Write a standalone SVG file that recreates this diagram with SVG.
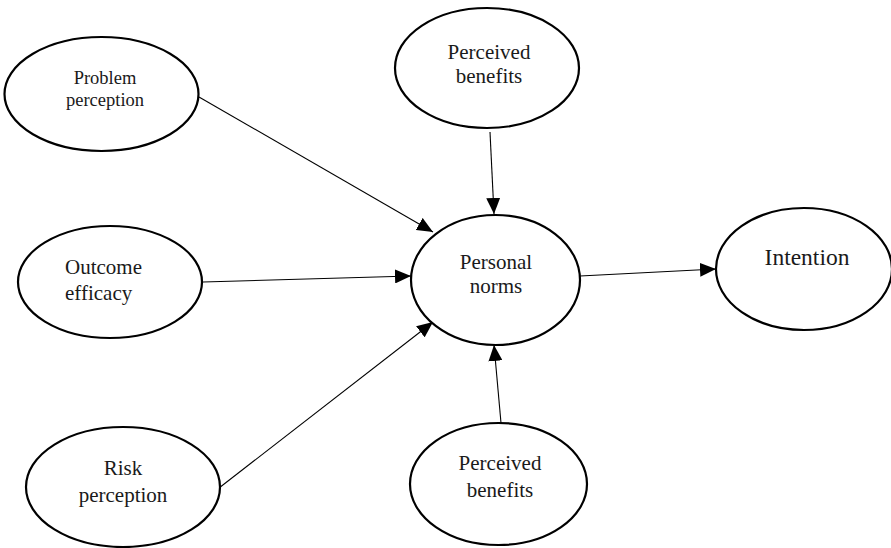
<svg xmlns="http://www.w3.org/2000/svg" width="891" height="548" viewBox="0 0 891 548">
<style>
.n ellipse{fill:#fff;stroke:#000;stroke-width:2.2}
.n text{font-family:"Liberation Serif","Times New Roman",serif;fill:#1a1a1a;text-anchor:middle}
.c line{stroke:#000;stroke-width:1.1;marker-end:url(#ah)}
</style>
<defs>
<marker id="ah" markerUnits="userSpaceOnUse" markerWidth="16" markerHeight="14" viewBox="0 0 16 14" refX="16" refY="7" orient="auto">
<path d="M0,0 L16,7 L0,14 Z" fill="#000"/>
</marker>
</defs>
<rect width="891" height="548" fill="#fff"/>
<g class="c">
<line x1="199" y1="97" x2="433" y2="232"/>
<line x1="203" y1="282" x2="411" y2="276"/>
<line x1="219" y1="488" x2="433" y2="322"/>
<line x1="490" y1="132" x2="494" y2="214"/>
<line x1="501" y1="423" x2="494" y2="345"/>
<line x1="580" y1="276" x2="716" y2="269"/>
</g>
<g id="problem" class="n">
<ellipse cx="101.5" cy="94" rx="97" ry="57"/>
<text x="105" y="84" font-size="18.5">Problem</text>
<text x="105" y="106" font-size="18.5">perception</text>
</g>
<g id="benefits-top" class="n">
<ellipse cx="487" cy="68" rx="92" ry="60"/>
<text x="489" y="59" font-size="21">Perceived</text>
<text x="489" y="83" font-size="21">benefits</text>
</g>
<g id="outcome" class="n">
<ellipse cx="110" cy="282" rx="92" ry="56"/>
<text x="65" y="274" font-size="21" style="text-anchor:start">Outcome</text>
<text x="65" y="300" font-size="21" style="text-anchor:start">efficacy</text>
</g>
<g id="norms" class="n">
<ellipse cx="495.5" cy="280" rx="84.5" ry="65"/>
<text x="496" y="269" font-size="21">Personal</text>
<text x="496" y="293" font-size="21">norms</text>
</g>
<g id="intention" class="n">
<ellipse cx="804" cy="269" rx="88" ry="61"/>
<text x="807" y="265" font-size="23.5">Intention</text>
</g>
<g id="risk" class="n">
<ellipse cx="123" cy="487" rx="97" ry="60"/>
<text x="123" y="475" font-size="21">Risk</text>
<text x="123" y="502" font-size="21">perception</text>
</g>
<g id="benefits-bottom" class="n">
<ellipse cx="498.5" cy="484" rx="88.5" ry="61"/>
<text x="500" y="470" font-size="21">Perceived</text>
<text x="500" y="497" font-size="21">benefits</text>
</g>
</svg>
